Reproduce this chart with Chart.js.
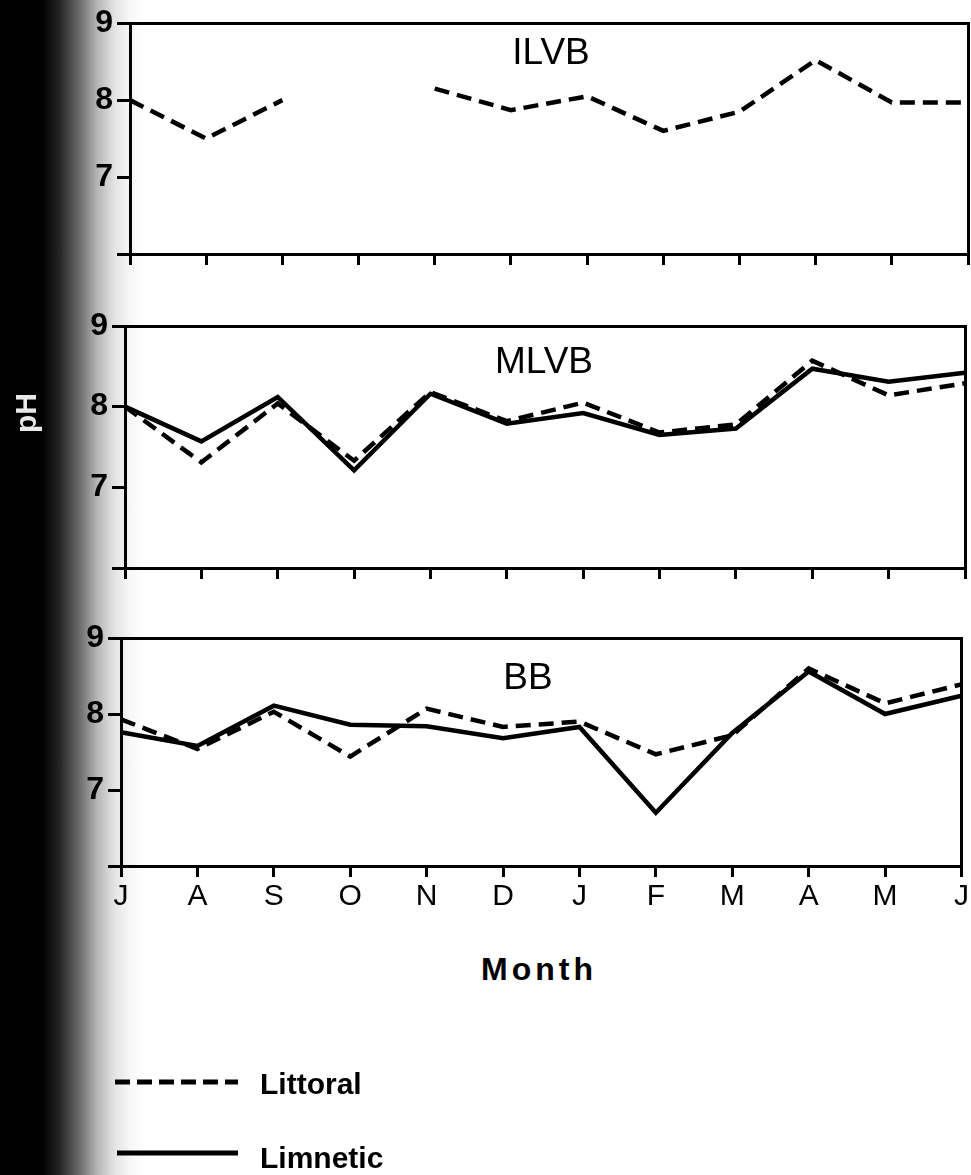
<!DOCTYPE html>
<html>
<head>
<meta charset="utf-8">
<script src="https://cdn.jsdelivr.net/npm/chart.js@4.4.1/dist/chart.umd.min.js"></script>
<style>
html,body{margin:0;padding:0;}
body{width:971px;height:1175px;position:relative;overflow:hidden;
 background:linear-gradient(to right,#000 0px,#000 42px,#262626 60px,#6e6e6e 80px,#b8b8b8 98px,#e4e4e4 115px,#f7f7f7 130px,#fff 145px);
 font-family:"Liberation Sans",Arial,sans-serif;color:#000;}
canvas{position:absolute;left:0;}
.pname{position:absolute;font-size:37px;line-height:37px;transform:translateX(-50%);white-space:nowrap;}
.month{position:absolute;font-size:32px;line-height:32px;font-weight:bold;letter-spacing:4px;transform:translateX(-50%);}
.leg{position:absolute;left:260px;font-size:30px;line-height:30px;font-weight:bold;}
.ph{position:absolute;left:26px;top:413px;font-size:30px;font-weight:bold;color:#e8e8e8;transform:translate(-50%,-50%) rotate(-90deg);}
svg{position:absolute;left:0;top:0;}
</style>
</head>
<body>
<canvas id="c1" width="971" height="282" style="top:0px"></canvas>
<canvas id="c2" width="971" height="300" style="top:300px"></canvas>
<canvas id="c3" width="971" height="320" style="top:610px"></canvas>
<div class="pname" style="left:551px;top:33px">ILVB</div>
<div class="pname" style="left:544px;top:342px">MLVB</div>
<div class="pname" style="left:528px;top:658px">BB</div>
<div class="ph">pH</div>
<div class="month" style="left:539px;top:953px">Month</div>
<svg width="971" height="1175">
  <line x1="115" y1="1082" x2="238" y2="1082" stroke="#000" stroke-width="5" stroke-dasharray="15 7"/>
  <line x1="117" y1="1153" x2="238" y2="1153" stroke="#000" stroke-width="5"/>
</svg>
<div class="leg" style="top:1069px">Littoral</div>
<div class="leg" style="top:1143px">Limnetic</div>
<script>
// Categories and tick labels
const months = ['J','A','S','O','N','D','J','F','M','A','M','J'];
const yTickValues = [6, 7, 8, 9];
const yTickLabels = ['', '7', '8', '9'];

// Series values (pH)
const ilvbLittoral = [8.0, 7.5, 8.0, null, 8.15, 7.87, 8.05, 7.6, 7.85, 8.52, 7.97, 7.97];
const mlvbLittoral = [8.0, 7.31, 8.04, 7.33, 8.18, 7.82, 8.05, 7.68, 7.78, 8.57, 8.14, 8.29];
const mlvbLimnetic = [8.0, 7.57, 8.12, 7.21, 8.16, 7.79, 7.92, 7.65, 7.73, 8.47, 8.31, 8.42];
const bbLittoral   = [7.93, 7.54, 8.03, 7.44, 8.07, 7.83, 7.9, 7.47, 7.72, 8.6, 8.14, 8.39];
const bbLimnetic   = [7.76, 7.58, 8.11, 7.86, 7.84, 7.68, 7.83, 6.7, 7.75, 8.56, 8.0, 8.24];

const seriesNames = ['Littoral', 'Limnetic'];

function makePanel(id, littoral, limnetic, geo) {
  const datasets = [{
    label: seriesNames[0], data: littoral, borderColor: '#000', borderWidth: 4.5,
    borderDash: [15, 8], borderCapStyle: 'butt', pointRadius: 0, fill: false,
    tension: 0, spanGaps: false
  }];
  if (limnetic) {
    datasets.push({
      label: seriesNames[1], data: limnetic, borderColor: '#000', borderWidth: 4.5,
      pointRadius: 0, fill: false, tension: 0
    });
  }
  new Chart(document.getElementById(id), {
    type: 'line',
    data: { labels: months, datasets },
    options: {
      responsive: false, animation: false, events: [],
      layout: { padding: { top: geo.top, right: geo.right, left: 0, bottom: 0 } },
      plugins: { legend: { display: false }, tooltip: { enabled: false } },
      scales: {
        x: {
          type: 'category', offset: false, position: 'bottom',
          grid: { drawOnChartArea: false, drawTicks: true, tickLength: 11, lineWidth: 3, tickWidth: 3, color: '#000' },
          border: { display: true, width: 3, color: '#000' },
          ticks: { display: geo.labels, autoSkip: false, maxRotation: 0, color: '#000',
                   padding: 2, font: { size: 30, family: 'Liberation Sans' } },
          afterFit: s => { s.height = geo.xh; }
        },
        x2: {
          type: 'category', labels: months, position: 'top', offset: false,
          grid: { display: false }, ticks: { display: false },
          border: { display: true, width: 3, color: '#000' },
          afterFit: s => { s.height = 0; }
        },
        y: {
          type: 'linear', min: 6, max: 9, position: 'left',
          grid: { drawOnChartArea: false, drawTicks: true, tickLength: 13, lineWidth: 3, tickWidth: 3, color: '#000' },
          border: { display: true, width: 3, color: '#000' },
          ticks: { stepSize: 1, color: '#000', padding: 4,
                   font: { size: 32, weight: 'bold', family: 'Liberation Sans' },
                   callback: v => yTickLabels[yTickValues.indexOf(v)] },
          afterFit: s => { s.width = geo.left; }
        },
        y2: {
          type: 'linear', min: 6, max: 9, position: 'right',
          grid: { display: false }, ticks: { display: false },
          border: { display: true, width: 3, color: '#000' },
          afterFit: s => { s.width = 0; }
        }
      }
    }
  });
}

makePanel('c1', ilvbLittoral, null, { top: 18, right: 3, left: 130, xh: 28, labels: false });
makePanel('c2', mlvbLittoral, mlvbLimnetic, { top: 26, right: 6, left: 125, xh: 32, labels: false });
makePanel('c3', bbLittoral, bbLimnetic, { top: 28, right: 9, left: 121, xh: 64, labels: true });
</script>
</body>
</html>
